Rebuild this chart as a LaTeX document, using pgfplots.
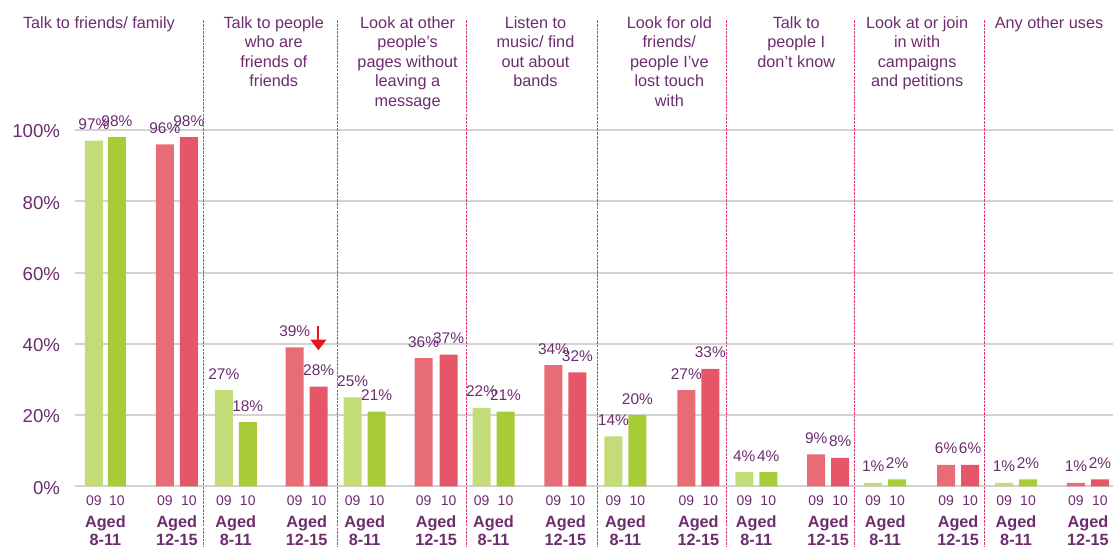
\documentclass[border=0pt]{standalone}
\usepackage{pgfplots}
\pgfplotsset{compat=1.18}
\usepackage{fontspec}
\setmainfont{Liberation Sans}
\usetikzlibrary{arrows.meta}
\definecolor{txt}{RGB}{108,44,110}
\definecolor{lgreen}{RGB}{195,220,120}
\definecolor{dgreen}{RGB}{168,204,56}
\definecolor{lred}{RGB}{232,108,118}
\definecolor{dred}{RGB}{228,86,104}
\definecolor{sep}{RGB}{214,60,110}
\definecolor{gridc}{RGB}{210,210,210}
\definecolor{arrowred}{RGB}{232,20,30}
\begin{document}
\begin{tikzpicture}
\begin{axis}[
  x=0.75pt, y=2.675pt,
  xmin=0, xmax=1039, ymin=0, ymax=100,
  enlargelimits=false, clip=false,
  axis line style={draw=none},
  major tick length=0pt,
  ybar, bar width=18, bar shift=0pt,
  ytick={0,20,40,60,80,100},
  yticklabels={0\%,20\%,40\%,60\%,80\%,100\%},
  yticklabel style={font=\fontsize{14}{16}\selectfont, text=txt, anchor=east, inner sep=0pt, xshift=-11pt, yshift=-1pt},
  ymajorgrids, grid style={gridc, line width=1.6pt},
  xtick={19,42,90,114,149,173,220,244,278,302,349,374,407,431,479,503,539,563,612,636,670,694,742,766,799,823,872,896,930,954,1002,1026},
  xticklabels={09,10,09,10,09,10,09,10,09,10,09,10,09,10,09,10,09,10,09,10,09,10,09,10,09,10,09,10,09,10,09,10},
  xticklabel style={font=\fontsize{10.5}{12}\selectfont, text=txt, anchor=base, inner sep=0pt, yshift=-14.25pt},
  extra x ticks={30.5,102,161,232,290,361.5,419,491,551,624,682,754,811,884,942,1014},
  extra x tick labels={{Aged\\8-11},{Aged\\12-15},{Aged\\8-11},{Aged\\12-15},{Aged\\8-11},{Aged\\12-15},{Aged\\8-11},{Aged\\12-15},{Aged\\8-11},{Aged\\12-15},{Aged\\8-11},{Aged\\12-15},{Aged\\8-11},{Aged\\12-15},{Aged\\8-11},{Aged\\12-15}},
  extra x tick style={grid=none, xticklabel style={font=\fontsize{12.2}{13.5}\selectfont\bfseries, text=txt, align=center, anchor=north, inner sep=0pt, yshift=-7.25pt}},
  nodes near coords={\pgfmathprintnumber[assume math mode=true]{\pgfplotspointmeta}\%},
  every node near coord/.append style={font=\fontsize{11.6}{13}\selectfont, text=txt, anchor=south, inner sep=0pt, yshift=8pt},
]
\addplot[fill=lgreen, draw=none] coordinates {(19,97) (149,27) (278,25) (407,22) (539,14) (670,4) (799,1) (930,1)};
\addplot[fill=dgreen, draw=none] coordinates {(42,98) (173,18) (302,21) (431,21) (563,20) (694,4) (823,2) (954,2)};
\addplot[fill=lred, draw=none] coordinates {(90,96) (220,39) (349,36) (479,34) (612,27) (742,9) (872,6) (1002,1)};
\addplot[fill=dred, draw=none] coordinates {(114,98) (244,28) (374,37) (503,32) (636,33) (766,8) (896,6) (1026,2)};
% panel separators
\foreach \xs in {129,263,392,523,652,780,910} {
  \edef\tmp{\noexpand\draw[sep, line width=0.5pt, dash pattern=on 2pt off 0.8pt] (axis cs:\xs,130.8) -- (axis cs:\xs,-17.1);}
  \tmp
}
% titles
\begin{scope}[every node/.style={font=\fontsize{12.2}{14.7}\selectfont, text=txt, align=center, anchor=north, inner sep=0pt}]
\node at (axis cs:24,132.0) {Talk to friends/ family};
\node at (axis cs:199,132.0) {Talk to people\\who are\\friends of\\friends};
\node at (axis cs:333,132.0) {Look at other\\people’s\\pages without\\leaving a\\message};
\node at (axis cs:461,132.0) {Listen to\\music/ find\\out about\\bands};
\node at (axis cs:595,132.0) {Look for old\\friends/\\people I’ve\\lost touch\\with};
\node at (axis cs:722,132.0) {Talk to\\people I\\don’t know};
\node at (axis cs:843,132.0) {Look at or join\\in with\\campaigns\\and petitions};
\node at (axis cs:975,132.0) {Any other uses};
\end{scope}
\draw[-{Triangle[width=11.8pt,length=8pt]}, line width=1.5pt, arrowred] (axis cs:243.7,45.1) -- (axis cs:243.7,38.2);
\path (axis cs:-75,136.5) rectangle (axis cs:1039,-17.94);
\end{axis}
\end{tikzpicture}
\end{document}
